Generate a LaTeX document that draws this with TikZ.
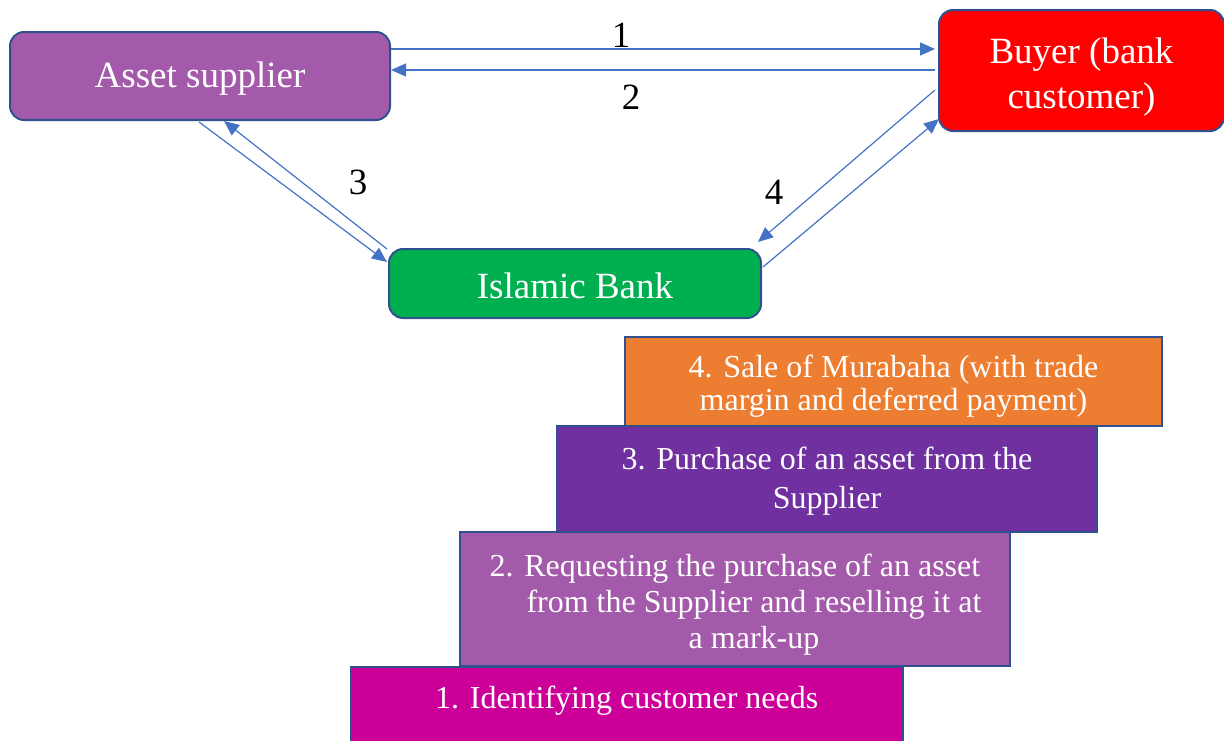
\documentclass[tikz,border=0pt]{standalone}
\usepackage{fontspec}
\setmainfont{Liberation Serif}
\usetikzlibrary{arrows.meta,calc}
\definecolor{edgeblue}{HTML}{2F528F}
\definecolor{arrowblue}{HTML}{4472C4}
\definecolor{orchid}{HTML}{A45AAA}
\definecolor{bankgreen}{HTML}{00B050}
\definecolor{stepfour}{HTML}{ED7D31}
\definecolor{stepthree}{HTML}{7030A0}
\definecolor{stepone}{HTML}{CC0099}
% invisible strut that lowers a node's text inside its box
\newcommand{\lift}[1]{\rule{0pt}{#1}}
\begin{document}
\begin{tikzpicture}[x=1pt,y=-1pt,
  party/.style={draw=edgeblue, line width=2pt, rounded corners=14pt, text=white,
    font=\fontsize{37}{45.5}\selectfont, align=center, inner sep=0pt},
  stepbox/.style={draw=edgeblue, line width=1.5pt, text=white,
    font=\fontsize{32}{36}\selectfont, align=center, inner sep=0pt},
  flow/.style={draw=arrowblue, line width=1.2pt, -{Triangle[length=15pt,width=13pt]}},
  num/.style={font=\fontsize{37}{40}\selectfont, text=black, inner sep=0pt}]
\useasboundingbox (0,0) rectangle (1224,740);

% parties
\node[party, fill=orchid, minimum width=380pt, minimum height=88pt] (asset) at (200,76)
  {\lift{31.5pt}Asset supplier};
\node[party, fill=red, minimum width=285pt, minimum height=121pt] (buyer) at (1081.5,70.5)
  {\lift{38.5pt}Buyer (bank\\customer)};
\node[party, fill=bankgreen, minimum width=372pt, minimum height=69pt] (bank) at (575,283.5)
  {\lift{30.8pt}Islamic Bank};

% flows between the parties
\draw[flow] ($(asset.north east)+(0,18)$) -- ($(buyer.north west)+(-3,40)$);
\draw[flow] ($(buyer.north west)+(-3,61)$) -- ($(asset.north east)+(0,39)$);
\draw[flow] ($(asset.south west)+(190,1)$) -- ($(bank.north west)+(-1,14)$);
\draw[flow] ($(bank.north west)+(-1,1)$) -- ($(asset.south west)+(215,0)$);
\draw[flow] ($(buyer.north west)+(-3,81)$) -- ($(bank.north east)+(-4,-6)$);
\draw[flow] ($(bank.north east)+(1,19)$) -- ($(buyer.south west)+(1,-13)$);

\node[num] (n1) at (621,35) {1};
\node[num] (n2) at (631,97) {2};
\node[num] (n3) at (358,182) {3};
\node[num] (n4) at (774,192) {4};

% staircase of steps
\node[stepbox, fill=stepfour, minimum width=537pt, minimum height=89pt,
  font=\fontsize{32}{33.5}\selectfont] (s4) at (893.5,381.5)
  {\lift{32pt}4. Sale of Murabaha (with trade\\margin and deferred payment)};
\node[stepbox, fill=stepthree, minimum width=540pt, minimum height=106pt,
  font=\fontsize{32}{39}\selectfont] (s3) at (827,479)
  {\lift{26pt}3. Purchase of an asset from the\\Supplier};
\node[stepbox, fill=orchid, minimum width=550pt, minimum height=134pt] (s2) at (735,599)
  {\lift{34pt}2. Requesting the purchase of an asset\\
   \hspace*{38pt}from the Supplier and reselling it at\\
   \hspace*{38pt}a mark-up};
\node[stepbox, fill=stepone, minimum width=552pt, anchor=north west,
  text height=30pt, text depth=50pt, inner ysep=12pt] (s1) at (350,666)
  {1. Identifying customer needs};
\end{tikzpicture}
\end{document}
